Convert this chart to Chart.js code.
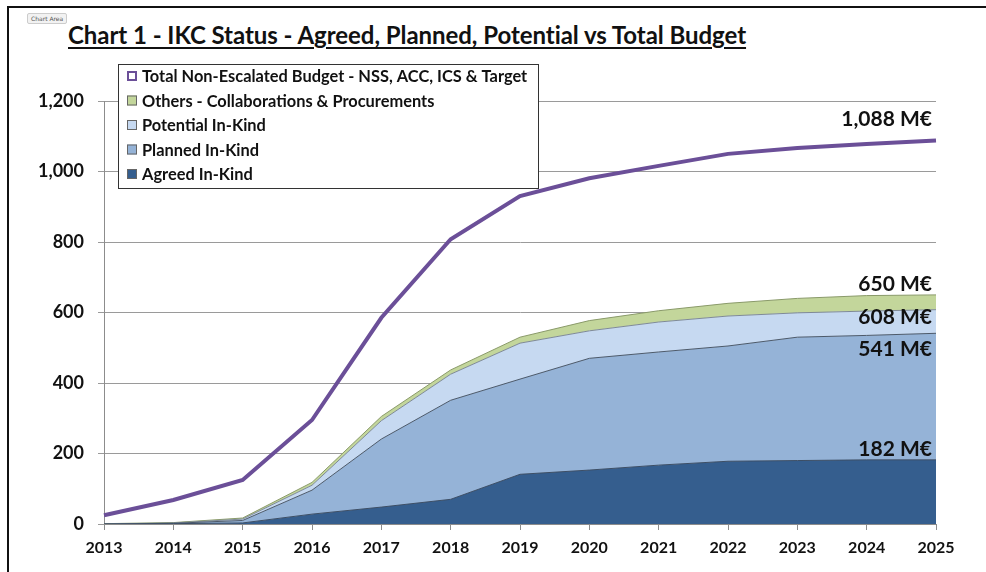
<!DOCTYPE html>
<html>
<head>
<meta charset="utf-8">
<script src="https://cdn.jsdelivr.net/npm/chart.js@4.4.1/dist/chart.umd.min.js"></script>
<style>
  html, body { margin: 0; padding: 0; background: #fff; }
  .wrap { position: relative; width: 986px; height: 572px; overflow: hidden; }
  .frame { position: absolute; left: 7px; top: 6px; width: 990px; height: 580px;
           border-left: 2px solid #111; border-top: 2px solid #111; }
  .tag { position: absolute; left: 27px; top: 13px; font: 6px 'DejaVu Sans', sans-serif; color: #555;
         background: #f2f2f2; border: 1px solid #ccc; border-radius: 2px; padding: 1px 3px; }
  .title { position: absolute; left: 68px; top: 20px; font: bold 24px Lato, sans-serif; color: #111;
           text-decoration: underline; text-underline-offset: 3px; letter-spacing: -0.05px; }
  canvas { position: absolute; left: 0; top: 0; }
</style>
</head>
<body>
<div class="wrap">
  <div class="frame"></div>
  <div class="tag">Chart Area</div>
  <div class="title">Chart 1 - IKC Status - Agreed, Planned, Potential vs Total Budget</div>
  <canvas id="ikcChart" width="986" height="572"></canvas>
</div>
<script>
// --- data (cumulative M€ per year) ---
const years = ['2013', '2014', '2015', '2016', '2017', '2018', '2019', '2020', '2021', '2022', '2023', '2024', '2025'];
const agreedInKind = [0, 1, 3, 28, 48, 70, 141, 153, 167, 178, 180, 182, 182];
const plannedInKind = [0, 2, 10, 96, 241, 351, 411, 470, 488, 505, 530, 535, 541];
const potentialInKind = [0, 3, 14, 110, 293, 425, 513, 548, 573, 590, 599, 604, 608];
const othersCollab = [1, 4, 17, 118, 305, 437, 530, 577, 605, 626, 640, 648, 650];
const totalBudget = [25, 68, 125, 295, 585, 808, 930, 981, 1016, 1050, 1067, 1078, 1088];
const yTicks = [0, 200, 400, 600, 800, 1000, 1200];
const endLabels = ['182 M€', '541 M€', '608 M€', '650 M€', '1,088 M€'];

const FONT = 'Lato, sans-serif';

// legend box drawn inside the plot, like the original
const boxLegend = {
    id: 'boxLegend',
    afterDraw(chart) {
        const ctx = chart.ctx;
        const x = 118, y = 64, w = 420, h = 124;
        ctx.save();
        ctx.fillStyle = '#fff';
        ctx.fillRect(x, y, w, h);
        ctx.strokeStyle = '#333';
        ctx.lineWidth = 1;
        ctx.strokeRect(x + 0.5, y + 0.5, w, h);
        ctx.font = 'bold 16.4px ' + FONT;
        ctx.textBaseline = 'middle';
        const order = [4, 3, 2, 1, 0];
        order.forEach((idx, i) => {
            const ds = chart.data.datasets[idx];
            const cy = y + 12 + i * 24.5;
            if (idx === 4) {
                ctx.fillStyle = '#fff';
                ctx.fillRect(127, cy - 5, 10, 10);
                ctx.strokeStyle = ds.borderColor;
                ctx.lineWidth = 2;
                ctx.strokeRect(128, cy - 4, 8, 8);
            } else {
                ctx.fillStyle = ds.backgroundColor;
                ctx.fillRect(127, cy - 5, 10, 10);
                ctx.strokeStyle = '#666';
                ctx.lineWidth = 1;
                ctx.strokeRect(127.5, cy - 4.5, 9, 9);
            }
            ctx.fillStyle = '#111';
            ctx.fillText(ds.label, 142, cy + 1);
        });
        ctx.restore();
    }
};

// "xxx M€" labels at the 2025 end of each series
const endValueLabels = {
    id: 'endValueLabels',
    afterDatasetsDraw(chart) {
        const ctx = chart.ctx;
        const offsets = [-11, 16, 8, -11, -21];
        ctx.save();
        ctx.font = 'bold 21px ' + FONT;
        ctx.fillStyle = '#111';
        ctx.textAlign = 'right';
        ctx.textBaseline = 'middle';
        chart.data.datasets.forEach((ds, i) => {
            const meta = chart.getDatasetMeta(i);
            const pt = meta.data[meta.data.length - 1];
            ctx.fillText(endLabels[i], pt.x - 4, pt.y + offsets[i]);
        });
        ctx.restore();
    }
};

document.addEventListener('DOMContentLoaded', function () {
    const ctx = document.getElementById('ikcChart').getContext('2d');

    new Chart(ctx, {
        type: 'line',
        data: {
            labels: years,
            datasets: [
                {
                    label: 'Agreed In-Kind',
                    data: agreedInKind,
                    borderColor: '#3d4f66',
                    backgroundColor: '#355e8e',
                    fill: 'origin',
                    borderWidth: 1
                },
                {
                    label: 'Planned In-Kind',
                    data: plannedInKind,
                    borderColor: '#4d5a6a',
                    backgroundColor: '#95b3d7',
                    fill: '-1',
                    borderWidth: 1
                },
                {
                    label: 'Potential In-Kind',
                    data: potentialInKind,
                    borderColor: '#7f8a96',
                    backgroundColor: '#c6d9f1',
                    fill: '-1',
                    borderWidth: 1
                },
                {
                    label: 'Others - Collaborations & Procurements',
                    data: othersCollab,
                    borderColor: '#8a9a6a',
                    backgroundColor: '#c3d69b',
                    fill: '-1',
                    borderWidth: 1
                },
                {
                    label: 'Total Non-Escalated Budget - NSS, ACC, ICS & Target',
                    data: totalBudget,
                    borderColor: '#6b4f98',
                    backgroundColor: '#6b4f98',
                    fill: false,
                    borderWidth: 4
                }
            ]
        },
        options: {
            responsive: false,
            animation: false,
            events: [],
            tension: 0,
            elements: { point: { radius: 0 } },
            layout: { padding: { left: 34, right: 50, top: 101, bottom: 8 } },
            scales: {
                x: {
                    offset: false,
                    afterFit(scale) { scale.height = 40; },
                    grid: { drawOnChartArea: false, tickLength: 6, color: '#8c8c8c' },
                    border: { color: '#8c8c8c' },
                    ticks: {
                        color: '#111',
                        padding: 8,
                        maxRotation: 0,
                        font: { size: 16, family: FONT, weight: 'bold' }
                    }
                },
                y: {
                    min: 0,
                    max: 1200,
                    afterFit(scale) { scale.width = 70; },
                    afterBuildTicks(scale) { scale.ticks = yTicks.map(v => ({ value: v })); },
                    grid: { tickLength: 6, color: '#9a9a9a' },
                    border: { color: '#8c8c8c' },
                    ticks: {
                        color: '#111',
                        padding: 14,
                        font: { size: 18, family: FONT, weight: 'bold' },
                        callback: v => v.toLocaleString('en-US')
                    }
                }
            },
            plugins: {
                legend: { display: false },
                tooltip: { enabled: false },
                filler: { propagate: false }
            }
        },
        plugins: [endValueLabels, boxLegend]
    });
});
</script>
</body>
</html>
